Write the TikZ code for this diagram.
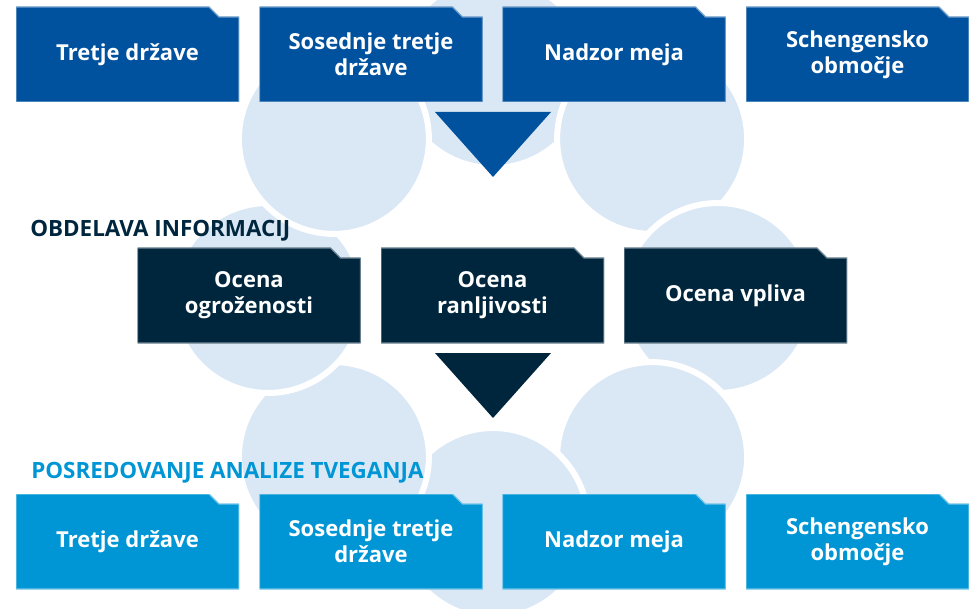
\documentclass[tikz,border=0pt]{standalone}
\usepackage{fontspec}
\setmainfont{Open Sans}
\usetikzlibrary{positioning}
\definecolor{topblue}{RGB}{0,82,158}
\definecolor{navycolor}{RGB}{0,38,62}
\definecolor{cyancolor}{RGB}{0,150,214}
\definecolor{circlecolor}{RGB}{218,232,246}

\begin{document}
\begin{tikzpicture}[
    x=0.75pt, y=-0.75pt,
    folder/.style={minimum width=167.25pt, minimum height=71.25pt, inner sep=0pt, text=white, align=center,
        font=\bfseries\fontsize{16.5}{19.5}\selectfont,
        path picture={\fill[#1, draw=#1!55!white, line width=1pt] (path picture bounding box.south west) -- (path picture bounding box.north west) -- ([xshift=-22.5pt]path picture bounding box.north east) -- ([xshift=-15pt, yshift=-7.5pt]path picture bounding box.north east) -- ([yshift=-7.5pt]path picture bounding box.north east) -- (path picture bounding box.south east) -- cycle;}},
    heading/.style={anchor=west, inner sep=0pt, text=#1, font=\bfseries\fontsize{16.8}{19}\selectfont},
    ring/.style={fill=circlecolor, draw=white, line width=4.5pt}
]
    \useasboundingbox (0,0) rectangle (969,609);

    \foreach \a in {-90,-45,0,45,90,135,180,225}
        \filldraw[ring, shift={(493,298)}] (\a:225) circle[radius=95];

    \node[folder=topblue] (thirdtop) at (127.5,54.5) {Tretje države};
    \node[folder=topblue] (neighbourtop) at (371,54.5) {Sosednje tretje\\države};
    \node[folder=topblue] (bordertop) at (614,54.5) {Nadzor meja};
    \node[folder=topblue] (schengentop) at (857.5,54.5) {Schengensko\\območje};

    \fill[topblue] (435,112) -- (551,112) -- (493,177) -- cycle;

    \node[heading=navycolor] (processing) at (30,231) {OBDELAVA INFORMACIJ};
    \node[folder=navycolor] (threat) at (249,295.5) {Ocena\\ogroženosti};
    \node[folder=navycolor] (vulnerability) at (492.5,295.5) {Ocena\\ranljivosti};
    \node[folder=navycolor] (impact) at (735.5,295.5) {Ocena vpliva};

    \fill[navycolor] (435,353) -- (551,353) -- (493,418) -- cycle;

    \node[heading=cyancolor] (dissemination) at (31,473) {POSREDOVANJE ANALIZE TVEGANJA};
    \node[folder=cyancolor] (thirdbot) at (127.5,541.5) {Tretje države};
    \node[folder=cyancolor] (neighbourbot) at (371,541.5) {Sosednje tretje\\države};
    \node[folder=cyancolor] (borderbot) at (614,541.5) {Nadzor meja};
    \node[folder=cyancolor] (schengenbot) at (857.5,541.5) {Schengensko\\območje};
\end{tikzpicture}
\end{document}
